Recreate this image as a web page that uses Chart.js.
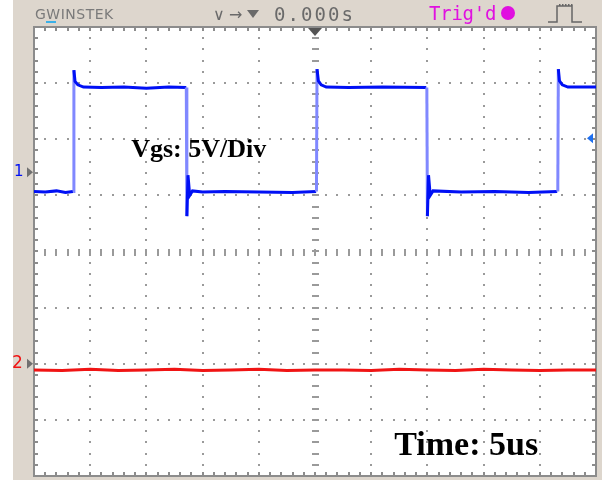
<!DOCTYPE html>
<html>
<head>
<meta charset="utf-8">
<script src="https://cdn.jsdelivr.net/npm/chart.js@4"></script>
<style>
  html, body { margin: 0; padding: 0; background: #ffffff; }
  canvas { display: block; }
</style>
</head>
<body>
<canvas id="scope" width="602" height="480"></canvas>
<script>
// Screen: 10 div x 8 div, 5 us/div, trigger at 0
const timeRange = [-25, 25];
const divRange = [-4, 4];

// CH1 (Vgs) trace: time in us, level in divisions
const ch1Time = [-25, -24, -23, -22.2, -21.55, -21.5, -21.45, -21.35, -21.1, -20.6, -19, -17, -15, -13, -11.5,
  -11.45, -11.4, -11.3, -11.15, -10.9, -10, -8, -5, -2, 0.1,
  0.13, 0.18, 0.3, 0.55, 1.0, 3, 6, 9.9,
  9.95, 10.0, 10.1, 10.25, 10.5, 13, 16, 19, 21.55,
  21.6, 21.65, 21.75, 22.0, 22.5, 25];
const ch1Level = [1.07, 1.06, 1.08, 1.05, 1.07, 1.07, 3.23, 3.03, 2.97, 2.93, 2.92, 2.93, 2.91, 2.93, 2.92,
  2.92, 0.63, 1.36, 1.0, 1.08, 1.06, 1.07, 1.06, 1.05, 1.07,
  1.07, 3.25, 3.04, 2.97, 2.93, 2.92, 2.93, 2.92,
  2.92, 0.63, 1.36, 1.0, 1.08, 1.06, 1.07, 1.05, 1.07,
  1.07, 3.25, 3.04, 2.97, 2.93, 2.93];

// CH2 trace (flat with noise)
const ch2Time = [-25, -22.5, -20, -17.5, -15, -12.5, -10, -7.5, -5, -2.5, 0, 2.5, 5, 7.5, 10, 12.5, 15, 17.5, 20, 22.5, 25];
const ch2Level = [-2.11, -2.12, -2.10, -2.12, -2.11, -2.10, -2.12, -2.11, -2.10, -2.12, -2.11, -2.11, -2.12, -2.10, -2.11, -2.12, -2.10, -2.11, -2.12, -2.11, -2.11];

// Ground / trigger markers (divisions)
const ch1Marker = 1.41;
const ch2Marker = -2.0;
const trigLevel = 2.02;

const BLUE = '#0010f5';
const BLUE_EDGE = '#8088ff';
const RED = '#f01414';
const BEIGE = '#ddd6cd';
const GRID = '#9a9a9a';

function points(xs, ys) {
  return xs.map((x, i) => ({ x: x, y: ys[i] }));
}

// beige frame, white screen, dotted graticule
const screenPlugin = {
  id: 'screen',
  beforeDatasetsDraw(chart) {
    const ctx = chart.ctx;
    const a = chart.chartArea;
    const xs = chart.scales.x, ys = chart.scales.y;
    ctx.save();
    ctx.fillStyle = BEIGE;
    ctx.fillRect(13, 0, chart.width - 13, chart.height);
    ctx.fillStyle = '#ffffff';
    ctx.fillRect(a.left, a.top, a.right - a.left, a.bottom - a.top);

    ctx.fillStyle = GRID;
    // vertical dotted lines
    for (let t = timeRange[0] + 5; t < timeRange[1]; t += 5) {
      if (t === 0) continue;
      const px = Math.round(xs.getPixelForValue(t));
      for (let v = divRange[0]; v <= divRange[1] + 0.001; v += 0.2) {
        const py = Math.round(ys.getPixelForValue(v));
        ctx.fillRect(px - 1, py - 1, 2, 2);
      }
    }
    // horizontal dotted lines
    for (let v = divRange[0] + 1; v < divRange[1]; v += 1) {
      if (v === 0) continue;
      const py = Math.round(ys.getPixelForValue(v));
      for (let t = timeRange[0]; t <= timeRange[1] + 0.001; t += 1) {
        const px = Math.round(xs.getPixelForValue(t));
        ctx.fillRect(px - 1, py - 1, 2, 2);
      }
    }
    // center cross with minor ticks
    const cx = Math.round(xs.getPixelForValue(0));
    const cy = Math.round(ys.getPixelForValue(0));
    for (let v = divRange[0]; v <= divRange[1] + 0.001; v += 0.2) {
      const py = Math.round(ys.getPixelForValue(v));
      ctx.fillRect(cx - 3, py - 1, 7, 2);
    }
    for (let t = timeRange[0]; t <= timeRange[1] + 0.001; t += 1) {
      const px = Math.round(xs.getPixelForValue(t));
      ctx.fillRect(px - 1, cy - 3, 2, 7);
    }
    // border ticks
    ctx.fillStyle = '#8c8c8c';
    for (let t = timeRange[0]; t <= timeRange[1] + 0.001; t += 1) {
      const px = Math.round(xs.getPixelForValue(t));
      ctx.fillRect(px - 1, a.top, 2, 4);
      ctx.fillRect(px - 1, a.bottom - 4, 2, 4);
    }
    for (let v = divRange[0]; v <= divRange[1] + 0.001; v += 0.2) {
      const py = Math.round(ys.getPixelForValue(v));
      ctx.fillRect(a.left, py - 1, 4, 2);
      ctx.fillRect(a.right - 4, py - 1, 4, 2);
    }
    ctx.strokeStyle = '#8c8c8c';
    ctx.lineWidth = 2;
    ctx.strokeRect(a.left, a.top, a.right - a.left, a.bottom - a.top);
    ctx.restore();
  },
  afterDatasetsDraw(chart) {
    const ctx = chart.ctx;
    const a = chart.chartArea;
    const xs = chart.scales.x, ys = chart.scales.y;
    ctx.save();

    // header bar
    ctx.textBaseline = 'alphabetic';
    ctx.fillStyle = '#7a7a7a';
    ctx.font = '14px "DejaVu Sans"';
    ctx.letterSpacing = '0.5px';
    ctx.fillText('GWINSTEK', 35, 19);
    ctx.letterSpacing = '0px';
    ctx.fillStyle = '#3ab0e8';
    ctx.fillRect(46, 21, 10, 2);

    ctx.fillStyle = '#6a6a6a';
    ctx.font = '16px "DejaVu Sans"';
    ctx.fillText('\u2228', 213, 20);
    ctx.fillText('\u2192', 229, 20);
    ctx.beginPath();
    ctx.moveTo(247, 10); ctx.lineTo(259, 10); ctx.lineTo(253, 18); ctx.closePath();
    ctx.fill();
    ctx.font = '19px "DejaVu Sans Mono"';
    drawSpaced(ctx, '0.000s', 274, 21, 13.5);

    ctx.fillStyle = '#e010e0';
    ctx.font = '19px "DejaVu Sans Mono"';
    drawSpaced(ctx, "Trig'd", 429, 20, 11.2);
    ctx.beginPath();
    ctx.arc(508, 13, 7, 0, Math.PI * 2);
    ctx.fill();

    // pulse icon
    ctx.strokeStyle = '#666666';
    ctx.lineWidth = 1.5;
    ctx.beginPath();
    ctx.moveTo(548, 22); ctx.lineTo(557, 22); ctx.lineTo(557, 6);
    ctx.lineTo(572, 6); ctx.lineTo(572, 22); ctx.lineTo(582, 22);
    ctx.stroke();
    ctx.fillStyle = '#666666';
    for (let i = 0; i < 5; i++) ctx.fillRect(559 + i * 3, 4, 1.5, 2);

    // trigger position marker
    const cx = xs.getPixelForValue(0);
    ctx.fillStyle = '#555555';
    ctx.beginPath();
    ctx.moveTo(cx - 7, a.top + 1); ctx.lineTo(cx + 7, a.top + 1); ctx.lineTo(cx, a.top + 9); ctx.closePath();
    ctx.fill();

    // channel markers
    const y1 = ys.getPixelForValue(ch1Marker);
    const y2 = ys.getPixelForValue(ch2Marker);
    ctx.fillStyle = '#707070';
    [y1, y2].forEach(py => {
      ctx.beginPath();
      ctx.moveTo(27, py - 5); ctx.lineTo(33, py); ctx.lineTo(27, py + 5); ctx.closePath();
      ctx.fill();
    });
    ctx.textBaseline = 'middle';
    ctx.font = '15px "DejaVu Sans"';
    ctx.fillStyle = BLUE;
    ctx.fillText('1', 14, y1);
    ctx.fillStyle = RED;
    ctx.font = '17px "DejaVu Sans"';
    ctx.fillText('2', 12, y2);

    // trigger level marker
    const yt = ys.getPixelForValue(trigLevel);
    ctx.fillStyle = '#1e6ff0';
    ctx.beginPath();
    ctx.moveTo(587, yt); ctx.lineTo(593, yt - 5); ctx.lineTo(593, yt + 5); ctx.closePath();
    ctx.fill();

    // annotations
    ctx.textBaseline = 'alphabetic';
    ctx.fillStyle = '#000000';
    ctx.font = 'bold 26px "Liberation Serif"';
    ctx.fillText('Vgs: 5V/Div', xs.getPixelForValue(-16.35), ys.getPixelForValue(1.68));
    ctx.font = 'bold 34px "Liberation Serif"';
    ctx.fillText('Time: 5us', xs.getPixelForValue(7.05), ys.getPixelForValue(-3.63));
    ctx.restore();
  }
};

function drawSpaced(ctx, text, x, y, step) {
  for (let i = 0; i < text.length; i++) ctx.fillText(text[i], x + i * step, y);
}

new Chart(document.getElementById('scope'), {
  type: 'line',
  data: {
    datasets: [
      {
        label: 'CH2',
        data: points(ch2Time, ch2Level),
        borderColor: RED,
        borderWidth: 3,
        pointRadius: 0,
        tension: 0
      },
      {
        label: 'CH1',
        data: points(ch1Time, ch1Level),
        borderColor: BLUE,
        borderWidth: 3,
        pointRadius: 0,
        tension: 0,
        segment: {
          borderColor: c => Math.abs(c.p1.parsed.x - c.p0.parsed.x) < 0.08 && Math.abs(c.p1.parsed.y - c.p0.parsed.y) > 1 ? BLUE_EDGE : BLUE
        }
      }
    ]
  },
  options: {
    responsive: false,
    animation: false,
    events: [],
    layout: { padding: { left: 34, top: 27, right: 6, bottom: 4 } },
    scales: {
      x: { type: 'linear', min: timeRange[0], max: timeRange[1], display: false },
      y: { type: 'linear', min: divRange[0], max: divRange[1], display: false }
    },
    plugins: {
      legend: { display: false },
      tooltip: { enabled: false }
    }
  },
  plugins: [screenPlugin]
});
</script>
</body>
</html>
